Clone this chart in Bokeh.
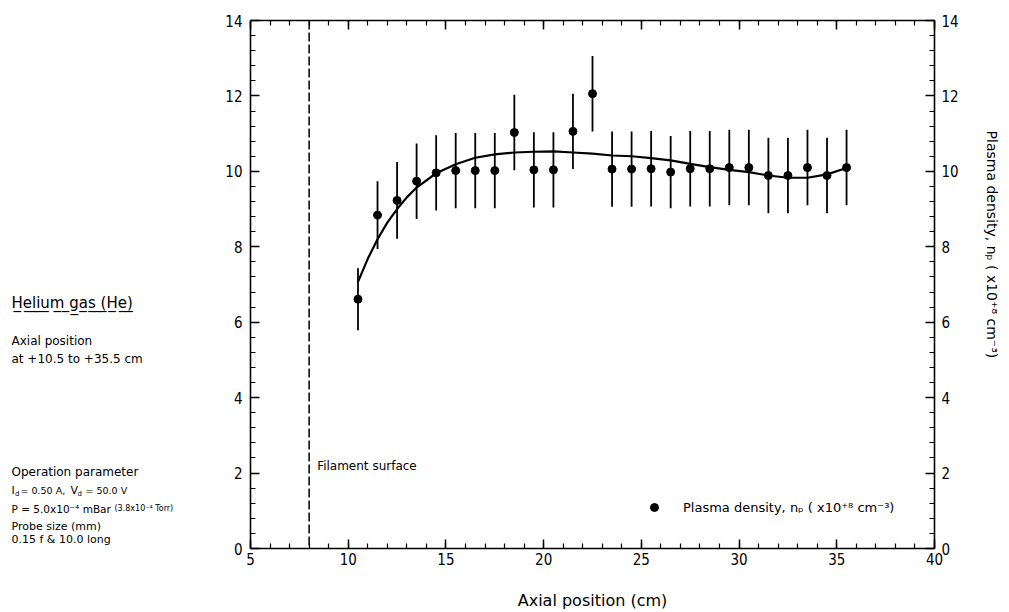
from bokeh.plotting import figure
from bokeh.layouts import row
from bokeh.models import (LinearAxis, Label, Span, Legend, LegendItem, Range1d,
                          SingleIntervalTicker, ColumnDataSource)
from bokeh.embed import file_html
from bokeh.resources import INLINE

# ---- data ----
axial_cm = [10.5, 11.5, 12.5, 13.5, 14.5, 15.5, 16.5, 17.5, 18.5, 19.5, 20.5, 21.5, 22.5,
            23.5, 24.5, 25.5, 26.5, 27.5, 28.5, 29.5, 30.5, 31.5, 32.5, 33.5, 34.5, 35.5]
density = [6.61, 8.84, 9.23, 9.74, 9.96, 10.02, 10.02, 10.02, 11.03, 10.04, 10.04, 11.06, 12.06,
           10.06, 10.06, 10.07, 9.98, 10.07, 10.07, 10.10, 10.10, 9.89, 9.89, 10.10, 9.89, 10.10]
density_err = [0.82, 0.90, 1.02, 1.00, 1.00, 1.00, 1.00, 1.00, 1.00, 1.00, 1.00, 1.00, 1.00,
               1.00, 1.00, 1.00, 0.96, 1.00, 1.00, 1.00, 1.00, 1.00, 1.00, 1.00, 1.00, 1.00]

fit_x = [10.5, 11.0, 11.5, 12.0, 12.5, 13.0, 13.5, 14.5, 15.5, 16.5, 17.5, 18.5, 19.5, 20.5,
         21.5, 22.5, 23.5, 24.5, 25.5, 26.5, 27.5, 28.5, 29.5, 30.5, 31.5, 32.5, 33.5, 34.5, 35.5]
fit_y = [7.07, 7.68, 8.20, 8.64, 9.00, 9.31, 9.57, 9.95, 10.19, 10.36, 10.45, 10.50, 10.52, 10.53,
         10.50, 10.47, 10.42, 10.40, 10.35, 10.29, 10.20, 10.11, 10.04, 9.98, 9.89, 9.83, 9.83, 9.92, 10.09]

FILAMENT_X = 8
X_RANGE = (5, 40)
Y_RANGE = (0, 14)
X_TICKS = [5, 10, 15, 20, 25, 30, 35, 40]

# ---- layout (pixels) ----
W, H = 1009, 612
LEFT_W = 215                     # width of the side-note panel
FL, FR, FT, FB = 250, 934, 20, 549

TXT = "DejaVu Sans"
NUM = "DejaVu Sans Condensed"

# ---------------- side notes panel ----------------
# (its frame is aligned with the chart frame by the row layout, so map y to page pixels)
notes = figure(width=LEFT_W, height=H, output_backend="svg", toolbar_location=None,
               x_range=Range1d(0, LEFT_W), y_range=Range1d(FB, FT),
               min_border=0, x_axis_type=None, y_axis_type=None)
notes.grid.visible = False
notes.outline_line_color = None
notes.border_fill_color = "white"


def note(px, py, text, size):
    notes.add_layout(Label(x=px, y=py, text=text, text_font=TXT, text_font_size=size,
                           text_baseline="middle", text_color="black"))


note(11, 303, "H̲e̲l̲i̲u̲m̲ ̲g̲a̲s̲ ̲(̲H̲e̲)̲", "15px")
note(11, 341, "Axial position", "12px")
note(11, 359, "at +10.5 to +35.5 cm", "12px")
note(11, 472, "Operation parameter", "12px")
note(11, 491, "I", "11px")
note(14.5, 494, "d", "7px")
note(20, 491, "= 0.50 A,", "9.5px")
note(70, 491, "V", "11px")
note(77, 494, "d", "7px")
note(85, 491, "= 50.0 V", "9.5px")
note(11, 509, "P = 5.0x10⁻⁴ mBar", "10.5px")
note(114, 509, "(3.8x10⁻⁴ Torr)", "8px")
note(11, 527, "Probe size (mm)", "11px")
note(11, 540, "0.15 f  & 10.0 long", "11px")

# ---------------- main chart ----------------
p = figure(width=W - LEFT_W, height=H, output_backend="svg", toolbar_location=None,
           x_range=Range1d(*X_RANGE), y_range=Range1d(*Y_RANGE),
           min_border_left=FL - LEFT_W, min_border_right=W - FR, min_border_top=FT,
           min_border_bottom=H - FB)
p.grid.visible = False
p.outline_line_color = None
p.background_fill_color = "white"
p.border_fill_color = "white"


def style(ax):
    ax.axis_line_width = 1.6
    ax.axis_line_color = "black"
    ax.major_tick_in = 9
    ax.major_tick_out = 0
    ax.minor_tick_in = 5
    ax.minor_tick_out = 0
    ax.major_tick_line_width = 1.5
    ax.minor_tick_line_width = 1.2
    ax.major_tick_line_color = "black"
    ax.minor_tick_line_color = "black"
    ax.major_label_text_font = NUM
    ax.major_label_text_font_size = "15px"
    ax.major_label_text_color = "black"
    ax.axis_label_text_font = TXT
    ax.axis_label_text_font_style = "normal"
    ax.axis_label_text_color = "black"


bx = p.xaxis[0]
bx.ticker = SingleIntervalTicker(interval=5, num_minor_ticks=5)
style(bx)
bx.major_label_standoff = 4
bx.axis_label = "Axial position (cm)"
bx.axis_label_text_font_size = "16px"
bx.axis_label_standoff = 23

ly = p.yaxis[0]
ly.ticker = SingleIntervalTicker(interval=2, num_minor_ticks=5)
style(ly)
ly.major_label_standoff = 8

top = LinearAxis(ticker=SingleIntervalTicker(interval=5, num_minor_ticks=5))
style(top)
top.major_label_overrides = {t: "" for t in X_TICKS}
top.major_label_standoff = 0
p.add_layout(top, "above")

ry = LinearAxis(ticker=SingleIntervalTicker(interval=2, num_minor_ticks=5))
style(ry)
ry.major_label_standoff = 7
ry.axis_label = "Plasma density, nₚ ( x10⁺⁸ cm⁻³)" + "\u00a0" * 18
ry.axis_label_text_font_size = "14px"
ry.axis_label_standoff = 22
p.add_layout(ry, "right")

# filament surface
p.add_layout(Span(location=FILAMENT_X, dimension="height", line_color="black",
                  line_width=1.5, line_dash="9 3"))
p.add_layout(Label(x=FILAMENT_X, y=2.2, x_offset=8, text="Filament surface", text_font=TXT,
                   text_font_size="12px", text_baseline="middle", text_color="black"))

# data
src = ColumnDataSource(dict(
    x=axial_cm, y=density,
    lo=[v - e for v, e in zip(density, density_err)],
    hi=[v + e for v, e in zip(density, density_err)]))
p.segment(x0="x", y0="lo", x1="x", y1="hi", source=src, line_color="black", line_width=1.8)
p.line(fit_x, fit_y, line_color="black", line_width=2.2)
pts = p.scatter("x", "y", source=src, size=8, marker="circle", fill_color="black",
                line_color="black")

legend = Legend(items=[LegendItem(label="Plasma density, nₚ ( x10⁺⁸ cm⁻³)", renderers=[pts])],
                location=(394, 31), background_fill_alpha=0, border_line_color=None,
                padding=0, margin=0, glyph_width=20, glyph_height=20, label_standoff=19,
                label_text_font=TXT, label_text_font_size="13px", label_text_color="black")
p.add_layout(legend, "center")

layout = row(notes, p, spacing=0)
open("out.html", "w").write(file_html(layout, INLINE))
